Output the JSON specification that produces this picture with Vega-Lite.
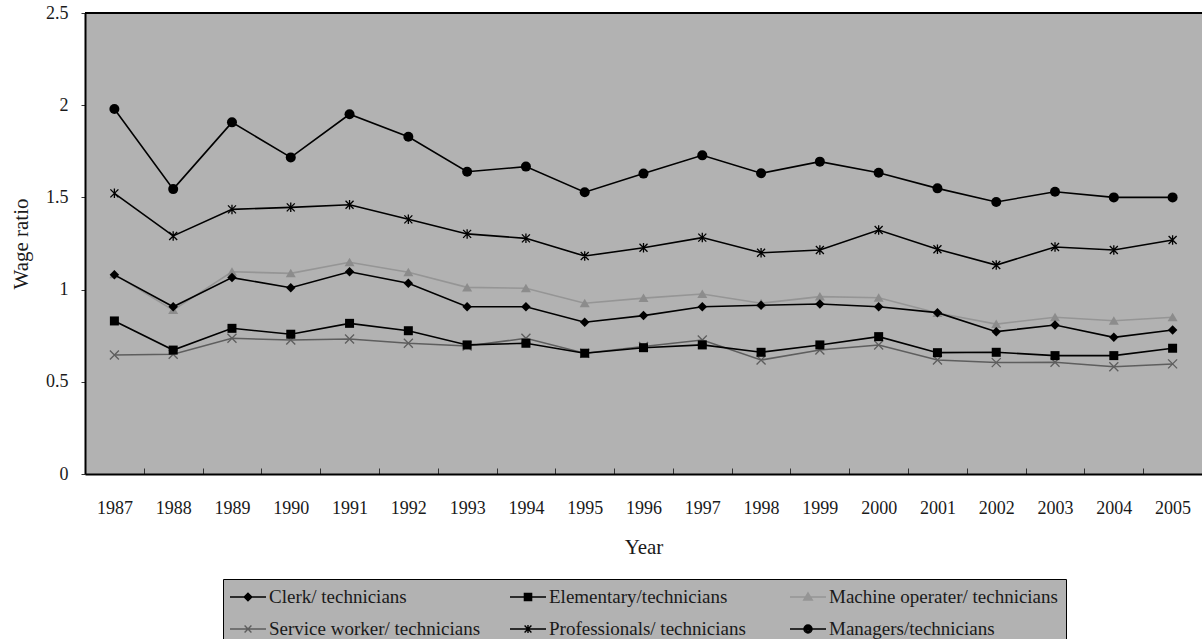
{
  "$schema": "https://vega.github.io/schema/vega-lite/v6.json",
  "width": 1117,
  "height": 461,
  "autosize": {"type": "none"},
  "padding": {"left": 85, "top": 13, "right": 0, "bottom": 165},
  "background": "white",
  "config": {
    "font": "Liberation Serif",
    "view": {"fill": "#b2b2b2", "stroke": null},
    "axis": {
      "labelFont": "Liberation Serif",
      "titleFont": "Liberation Serif",
      "labelColor": "#1a1a1a",
      "titleColor": "#1a1a1a",
      "labelFontSize": 18,
      "titleFontSize": 21,
      "titleFontWeight": "normal",
      "domainColor": "black",
      "domainWidth": 2,
      "tickColor": "#333333",
      "grid": false,
      "labelOverlap": false
    },
    "legend": {
      "labelFont": "Liberation Serif",
      "labelFontSize": 19,
      "labelColor": "#1a1a1a"
    }
  },
  "data": {
    "values": [
      {"year": "1987", "series": "Clerk/ technicians", "ratio": 1.08},
      {"year": "1988", "series": "Clerk/ technicians", "ratio": 0.907},
      {"year": "1989", "series": "Clerk/ technicians", "ratio": 1.065},
      {"year": "1990", "series": "Clerk/ technicians", "ratio": 1.01},
      {"year": "1991", "series": "Clerk/ technicians", "ratio": 1.097},
      {"year": "1992", "series": "Clerk/ technicians", "ratio": 1.034},
      {"year": "1993", "series": "Clerk/ technicians", "ratio": 0.907},
      {"year": "1994", "series": "Clerk/ technicians", "ratio": 0.907},
      {"year": "1995", "series": "Clerk/ technicians", "ratio": 0.823},
      {"year": "1996", "series": "Clerk/ technicians", "ratio": 0.859},
      {"year": "1997", "series": "Clerk/ technicians", "ratio": 0.907},
      {"year": "1998", "series": "Clerk/ technicians", "ratio": 0.915},
      {"year": "1999", "series": "Clerk/ technicians", "ratio": 0.922},
      {"year": "2000", "series": "Clerk/ technicians", "ratio": 0.907},
      {"year": "2001", "series": "Clerk/ technicians", "ratio": 0.875},
      {"year": "2002", "series": "Clerk/ technicians", "ratio": 0.772},
      {"year": "2003", "series": "Clerk/ technicians", "ratio": 0.808},
      {"year": "2004", "series": "Clerk/ technicians", "ratio": 0.741},
      {"year": "2005", "series": "Clerk/ technicians", "ratio": 0.781},

      {"year": "1987", "series": "Elementary/technicians", "ratio": 0.83},
      {"year": "1988", "series": "Elementary/technicians", "ratio": 0.672},
      {"year": "1989", "series": "Elementary/technicians", "ratio": 0.79},
      {"year": "1990", "series": "Elementary/technicians", "ratio": 0.758},
      {"year": "1991", "series": "Elementary/technicians", "ratio": 0.817},
      {"year": "1992", "series": "Elementary/technicians", "ratio": 0.777},
      {"year": "1993", "series": "Elementary/technicians", "ratio": 0.7},
      {"year": "1994", "series": "Elementary/technicians", "ratio": 0.709},
      {"year": "1995", "series": "Elementary/technicians", "ratio": 0.655},
      {"year": "1996", "series": "Elementary/technicians", "ratio": 0.685},
      {"year": "1997", "series": "Elementary/technicians", "ratio": 0.7},
      {"year": "1998", "series": "Elementary/technicians", "ratio": 0.66},
      {"year": "1999", "series": "Elementary/technicians", "ratio": 0.7},
      {"year": "2000", "series": "Elementary/technicians", "ratio": 0.745},
      {"year": "2001", "series": "Elementary/technicians", "ratio": 0.658},
      {"year": "2002", "series": "Elementary/technicians", "ratio": 0.66},
      {"year": "2003", "series": "Elementary/technicians", "ratio": 0.642},
      {"year": "2004", "series": "Elementary/technicians", "ratio": 0.642},
      {"year": "2005", "series": "Elementary/technicians", "ratio": 0.682},

      {"year": "1987", "series": "Machine operater/ technicians", "ratio": 1.083},
      {"year": "1988", "series": "Machine operater/ technicians", "ratio": 0.889},
      {"year": "1989", "series": "Machine operater/ technicians", "ratio": 1.097},
      {"year": "1990", "series": "Machine operater/ technicians", "ratio": 1.088},
      {"year": "1991", "series": "Machine operater/ technicians", "ratio": 1.148},
      {"year": "1992", "series": "Machine operater/ technicians", "ratio": 1.094},
      {"year": "1993", "series": "Machine operater/ technicians", "ratio": 1.012},
      {"year": "1994", "series": "Machine operater/ technicians", "ratio": 1.007},
      {"year": "1995", "series": "Machine operater/ technicians", "ratio": 0.926},
      {"year": "1996", "series": "Machine operater/ technicians", "ratio": 0.954},
      {"year": "1997", "series": "Machine operater/ technicians", "ratio": 0.976},
      {"year": "1998", "series": "Machine operater/ technicians", "ratio": 0.926},
      {"year": "1999", "series": "Machine operater/ technicians", "ratio": 0.962},
      {"year": "2000", "series": "Machine operater/ technicians", "ratio": 0.956},
      {"year": "2001", "series": "Machine operater/ technicians", "ratio": 0.873},
      {"year": "2002", "series": "Machine operater/ technicians", "ratio": 0.813},
      {"year": "2003", "series": "Machine operater/ technicians", "ratio": 0.85},
      {"year": "2004", "series": "Machine operater/ technicians", "ratio": 0.831},
      {"year": "2005", "series": "Machine operater/ technicians", "ratio": 0.85},

      {"year": "1987", "series": "Service worker/ technicians", "ratio": 0.645},
      {"year": "1988", "series": "Service worker/ technicians", "ratio": 0.649},
      {"year": "1989", "series": "Service worker/ technicians", "ratio": 0.736},
      {"year": "1990", "series": "Service worker/ technicians", "ratio": 0.727},
      {"year": "1991", "series": "Service worker/ technicians", "ratio": 0.732},
      {"year": "1992", "series": "Service worker/ technicians", "ratio": 0.709},
      {"year": "1993", "series": "Service worker/ technicians", "ratio": 0.694},
      {"year": "1994", "series": "Service worker/ technicians", "ratio": 0.736},
      {"year": "1995", "series": "Service worker/ technicians", "ratio": 0.655},
      {"year": "1996", "series": "Service worker/ technicians", "ratio": 0.691},
      {"year": "1997", "series": "Service worker/ technicians", "ratio": 0.727},
      {"year": "1998", "series": "Service worker/ technicians", "ratio": 0.618},
      {"year": "1999", "series": "Service worker/ technicians", "ratio": 0.672},
      {"year": "2000", "series": "Service worker/ technicians", "ratio": 0.7},
      {"year": "2001", "series": "Service worker/ technicians", "ratio": 0.618},
      {"year": "2002", "series": "Service worker/ technicians", "ratio": 0.604},
      {"year": "2003", "series": "Service worker/ technicians", "ratio": 0.606},
      {"year": "2004", "series": "Service worker/ technicians", "ratio": 0.582},
      {"year": "2005", "series": "Service worker/ technicians", "ratio": 0.597},

      {"year": "1987", "series": "Professionals/ technicians", "ratio": 1.522},
      {"year": "1988", "series": "Professionals/ technicians", "ratio": 1.291},
      {"year": "1989", "series": "Professionals/ technicians", "ratio": 1.435},
      {"year": "1990", "series": "Professionals/ technicians", "ratio": 1.446},
      {"year": "1991", "series": "Professionals/ technicians", "ratio": 1.46},
      {"year": "1992", "series": "Professionals/ technicians", "ratio": 1.381},
      {"year": "1993", "series": "Professionals/ technicians", "ratio": 1.302},
      {"year": "1994", "series": "Professionals/ technicians", "ratio": 1.278},
      {"year": "1995", "series": "Professionals/ technicians", "ratio": 1.182},
      {"year": "1996", "series": "Professionals/ technicians", "ratio": 1.227},
      {"year": "1997", "series": "Professionals/ technicians", "ratio": 1.282},
      {"year": "1998", "series": "Professionals/ technicians", "ratio": 1.2},
      {"year": "1999", "series": "Professionals/ technicians", "ratio": 1.215},
      {"year": "2000", "series": "Professionals/ technicians", "ratio": 1.323},
      {"year": "2001", "series": "Professionals/ technicians", "ratio": 1.219},
      {"year": "2002", "series": "Professionals/ technicians", "ratio": 1.133},
      {"year": "2003", "series": "Professionals/ technicians", "ratio": 1.231},
      {"year": "2004", "series": "Professionals/ technicians", "ratio": 1.215},
      {"year": "2005", "series": "Professionals/ technicians", "ratio": 1.269},

      {"year": "1987", "series": "Managers/technicians", "ratio": 1.979},
      {"year": "1988", "series": "Managers/technicians", "ratio": 1.545},
      {"year": "1989", "series": "Managers/technicians", "ratio": 1.907},
      {"year": "1990", "series": "Managers/technicians", "ratio": 1.717},
      {"year": "1991", "series": "Managers/technicians", "ratio": 1.951},
      {"year": "1992", "series": "Managers/technicians", "ratio": 1.829},
      {"year": "1993", "series": "Managers/technicians", "ratio": 1.639},
      {"year": "1994", "series": "Managers/technicians", "ratio": 1.667},
      {"year": "1995", "series": "Managers/technicians", "ratio": 1.528},
      {"year": "1996", "series": "Managers/technicians", "ratio": 1.629},
      {"year": "1997", "series": "Managers/technicians", "ratio": 1.728},
      {"year": "1998", "series": "Managers/technicians", "ratio": 1.631},
      {"year": "1999", "series": "Managers/technicians", "ratio": 1.694},
      {"year": "2000", "series": "Managers/technicians", "ratio": 1.634},
      {"year": "2001", "series": "Managers/technicians", "ratio": 1.549},
      {"year": "2002", "series": "Managers/technicians", "ratio": 1.475},
      {"year": "2003", "series": "Managers/technicians", "ratio": 1.531},
      {"year": "2004", "series": "Managers/technicians", "ratio": 1.5},
      {"year": "2005", "series": "Managers/technicians", "ratio": 1.5}
    ]
  },
  "encoding": {
    "x": {
      "field": "year",
      "type": "ordinal",
      "scale": {"type": "band", "paddingInner": 0, "paddingOuter": 0},
      "axis": {
        "title": "Year",
        "labelAngle": 0,
        "tickBand": "extent",
        "tickSize": -6,
        "tickWidth": 1,
        "labelPadding": 31,
        "titlePadding": 19
      }
    },
    "y": {
      "field": "ratio",
      "type": "quantitative",
      "scale": {"domain": [0, 2.5]},
      "axis": {
        "title": "Wage ratio",
        "values": [0, 0.5, 1, 1.5, 2, 2.5],
        "format": "~g",
        "tickSize": 4,
        "labelPadding": 13,
        "labelFlush": false,
        "titlePadding": 14
      }
    }
  },
  "layer": [
    {
      "transform": [{"filter": {"field": "series", "equal": "Service worker/ technicians"}}],
      "mark": {
        "type": "line", "color": "#5e5e5e", "strokeWidth": 1.5,
        "point": {"shape": "M-0.9,-0.9L0.9,0.9M-0.9,0.9L0.9,-0.9", "filled": false, "stroke": "#5e5e5e", "strokeWidth": 1.3, "size": 100}
      }
    },
    {
      "transform": [{"filter": {"field": "series", "equal": "Elementary/technicians"}}],
      "mark": {
        "type": "line", "color": "#000000", "strokeWidth": 1.6,
        "point": {"shape": "M-0.9,-0.9H0.9V0.9H-0.9Z", "filled": true, "color": "#000000", "size": 100}
      }
    },
    {
      "transform": [{"filter": {"field": "series", "equal": "Machine operater/ technicians"}}],
      "mark": {
        "type": "line", "color": "#959595", "strokeWidth": 1.6,
        "point": {"shape": "M0,-0.9L1,0.8H-1Z", "filled": true, "color": "#8c8c8c", "size": 100}
      }
    },
    {
      "transform": [{"filter": {"field": "series", "equal": "Clerk/ technicians"}}],
      "mark": {
        "type": "line", "color": "#000000", "strokeWidth": 1.6,
        "point": {"shape": "M0,-0.95L0.95,0L0,0.95L-0.95,0Z", "filled": true, "color": "#000000", "size": 100}
      }
    },
    {
      "transform": [{"filter": {"field": "series", "equal": "Professionals/ technicians"}}],
      "mark": {
        "type": "line", "color": "#000000", "strokeWidth": 1.6,
        "point": {"shape": "M0,-0.95V0.95M-0.8,-0.8L0.8,0.8M-0.8,0.8L0.8,-0.8", "filled": false, "stroke": "#000000", "strokeWidth": 1.3, "size": 100}
      }
    },
    {
      "transform": [{"filter": {"field": "series", "equal": "Managers/technicians"}}],
      "mark": {
        "type": "line", "color": "#000000", "strokeWidth": 1.6,
        "point": {"shape": "circle", "filled": true, "color": "#000000", "size": 100}
      }
    },
    {
      "mark": {"type": "point", "filled": true, "opacity": 0, "size": 324},
      "encoding": {
        "color": {
          "field": "series",
          "type": "nominal",
          "scale": {
            "domain": ["Clerk/ technicians", "Elementary/technicians", "Machine operater/ technicians", "Service worker/ technicians", "Professionals/ technicians", "Managers/technicians"],
            "range": ["#000000", "#000000", "#8c8c8c", "#5e5e5e", "#000000", "#000000"]
          },
          "legend": {
            "orient": "none",
            "legendX": 138,
            "legendY": 566,
            "direction": "horizontal",
            "columns": 3,
            "title": null,
            "fillColor": "#b2b2b2",
            "strokeColor": "#000000",
            "padding": 8,
            "gridAlign": "all",
            "columnPadding": 9,
            "rowPadding": 12,
            "symbolSize": 324,
            "symbolOpacity": 1,
            "symbolOffset": 7,
            "labelOffset": 11,
            "symbolStrokeWidth": 1.4,
            "labelFont": "Liberation Serif",
            "labelFontSize": 19,
            "labelColor": "#1a1a1a",
            "labelLimit": 400
          }
        },
        "stroke": {
          "field": "series",
          "type": "nominal",
          "scale": {
            "domain": ["Clerk/ technicians", "Elementary/technicians", "Machine operater/ technicians", "Service worker/ technicians", "Professionals/ technicians", "Managers/technicians"],
            "range": ["#000000", "#000000", "#959595", "#5e5e5e", "#000000", "#000000"]
          }
        },
        "shape": {
          "field": "series",
          "type": "nominal",
          "scale": {
            "domain": ["Clerk/ technicians", "Elementary/technicians", "Machine operater/ technicians", "Service worker/ technicians", "Professionals/ technicians", "Managers/technicians"],
            "range": [
              "M-2,0H2M0,-0.42L0.42,0L0,0.42L-0.42,0ZM0,-0.28L0.28,0L0,0.28L-0.28,0ZM0,-0.14L0.14,0L0,0.14L-0.14,0Z",
              "M-2,0H2M-0.4,-0.4H0.4V0.4H-0.4ZM-0.27,-0.27H0.27V0.27H-0.27ZM-0.13,-0.13H0.13V0.13H-0.13Z",
              "M-2,0H2M0,-0.45L0.48,0.35H-0.48ZM0,-0.269L0.317,0.259H-0.317ZM0,-0.093L0.158,0.171H-0.158Z",
              "M-2,0H2M-0.38,-0.38L0.38,0.38M-0.38,0.38L0.38,-0.38",
              "M-2,0H2M0,-0.45V0.45M-0.38,-0.38L0.38,0.38M-0.38,0.38L0.38,-0.38",
              "M-2,0H2M0.45,0A0.45,0.45,0,1,1,-0.45,0A0.45,0.45,0,1,1,0.45,0ZM0.3,0A0.3,0.3,0,1,1,-0.3,0A0.3,0.3,0,1,1,0.3,0ZM0.15,0A0.15,0.15,0,1,1,-0.15,0A0.15,0.15,0,1,1,0.15,0Z"
            ]
          }
        }
      }
    },
    {
      "data": {"values": [{"top": 2.5}]},
      "mark": {"type": "rule", "color": "#000000", "strokeWidth": 2},
      "encoding": {
        "x": null,
        "y": {"field": "top", "type": "quantitative"}
      }
    }
  ]
}
